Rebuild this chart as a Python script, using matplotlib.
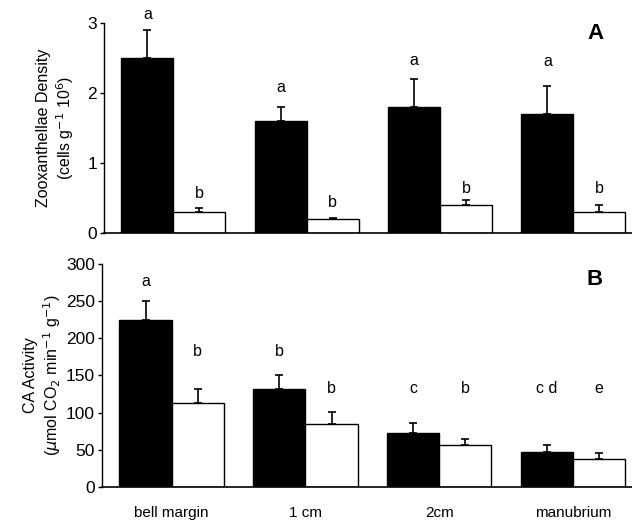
#bar chart of zooxanthellae density and CA activity at four body positions
#two panels stacked, black = first treatment, white = second

import numpy as np
import matplotlib.pyplot as plt

plt.rcParams['font.family'] = ['Liberation Sans', 'DejaVu Sans']

positions = ['bell margin', '1 cm', '2cm', 'manubrium']

#panel A - zooxanthellae density (cells g-1 10^6)
dens_black = [2.5, 1.6, 1.8, 1.7]
dens_black_err = [0.4, 0.2, 0.4, 0.4]
dens_white = [0.3, 0.2, 0.4, 0.3]
dens_white_err = [0.05, 0.02, 0.07, 0.1]
dens_black_letters = ['a', 'a', 'a', 'a']
dens_white_letters = ['b', 'b', 'b', 'b']
dens_black_letter_y = [3.12, 2.08, 2.47, 2.45]
dens_white_letter_y = [0.57, 0.44, 0.64, 0.64]

#panel B - CA activity (umol CO2 min-1 g-1)
ca_black = [225, 132, 72, 47]
ca_black_err = [25, 18, 14, 9]
ca_white = [113, 85, 56, 38]
ca_white_err = [19, 16, 8, 8]
ca_black_letters = ['a', 'b', 'c', 'c d']
ca_white_letters = ['b', 'b', 'b', 'e']
ca_black_letter_y = [277, 182, 133, 133]
ca_white_letter_y = [182, 133, 133, 133]

WIDTH = 0.39 #bar width, groups are 1 unit apart


def draw_panel(ax, black, black_err, white, white_err, b_let, w_let, b_ly, w_ly, top):
    x = np.arange(len(black))
    xb = x - WIDTH / 2
    xw = x + WIDTH / 2
    ax.bar(xb, black, WIDTH, color='black', edgecolor='black', linewidth=1.0, zorder=2)
    ax.bar(xw, white, WIDTH, color='white', edgecolor='black', linewidth=1.0, zorder=2)
    #only the upper half of the error bars is shown
    ax.errorbar(xb, black, yerr=[np.zeros(len(black)), black_err], fmt='none',
                ecolor='black', elinewidth=1.2, capsize=3, capthick=1.2, zorder=1)
    ax.errorbar(xw, white, yerr=[np.zeros(len(white)), white_err], fmt='none',
                ecolor='black', elinewidth=1.2, capsize=3, capthick=1.2, zorder=1)
    for i in range(len(black)):
        ax.text(xb[i], b_ly[i], b_let[i], ha='center', va='center', fontsize=11.5)
        ax.text(xw[i], w_ly[i], w_let[i], ha='center', va='center', fontsize=11.5)

    ax.set_xlim(-0.52, 3.44)
    ax.set_ylim(0, top)
    ax.spines['top'].set_visible(False)
    ax.spines['right'].set_visible(False)
    ax.spines['left'].set_linewidth(1.0)
    ax.spines['bottom'].set_linewidth(1.2)
    ax.tick_params(axis='y', direction='out', length=3, width=1.0, labelsize=12.5, pad=2)
    ax.tick_params(axis='x', length=0, labelsize=11, pad=14)


fig = plt.figure(figsize=(6.32, 5.27), dpi=100)
axA = fig.add_axes([0.1646, 0.558, 0.8354, 0.3985])
axB = fig.add_axes([0.1614, 0.0759, 0.8386, 0.4232])

draw_panel(axA, dens_black, dens_black_err, dens_white, dens_white_err,
           dens_black_letters, dens_white_letters, dens_black_letter_y, dens_white_letter_y, 3)
axA.set_yticks([0, 1, 2, 3])
axA.set_xticks([])
axA.set_ylabel('Zooxanthellae Density\n(cells g$^{-1}$ 10$^{6}$)', fontsize=11.5, labelpad=8)
axA.text(0.93, 0.95, 'A', transform=axA.transAxes, fontsize=16, fontweight='bold', ha='center', va='center')

draw_panel(axB, ca_black, ca_black_err, ca_white, ca_white_err,
           ca_black_letters, ca_white_letters, ca_black_letter_y, ca_white_letter_y, 300)
axB.set_yticks(np.arange(0, 301, 50))
axB.set_xticks(np.arange(len(positions)))
axB.set_xticklabels(positions)
axB.set_ylabel('CA Activity\n($\\mu$mol CO$_2$ min$^{-1}$ g$^{-1}$)', fontsize=11.5, labelpad=2)
axB.text(0.93, 0.93, 'B', transform=axB.transAxes, fontsize=16, fontweight='bold', ha='center', va='center')

plt.savefig('out.png', dpi=100)
